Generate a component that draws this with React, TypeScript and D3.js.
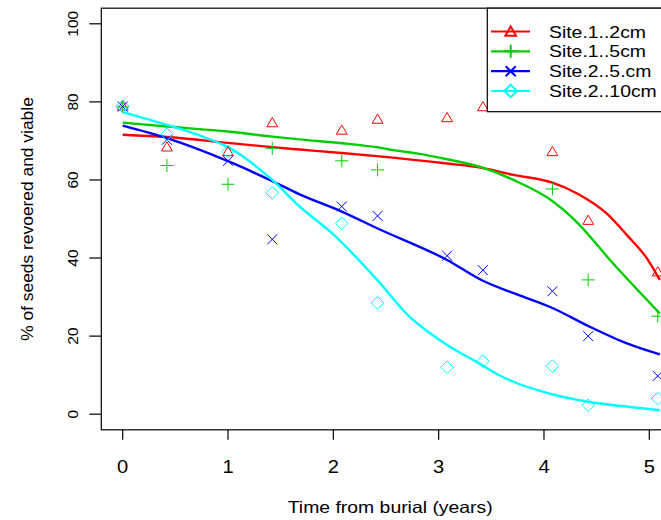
import React from 'react';
import * as d3 from 'd3';

// ---- data ----
const years = [0, 0.42, 1, 1.42, 2.08, 2.42, 3.08, 3.42, 4.08, 4.42, 5.08];
const site1_2cm: (number | null)[] = [79.0, 68.5, 67.3, 74.7, 72.8, 75.6, 76.0, 78.8, 67.3, 49.7, 36.5];
const site1_5cm: (number | null)[] = [78.7, 63.7, 58.9, 68.1, 64.9, 62.6, null, null, 57.7, 34.4, 25.1];
const site2_5cm: (number | null)[] = [78.8, 70.3, 64.9, 44.8, 53.2, 50.8, 40.6, 36.9, 31.5, 20.0, 9.8];
const site2_10cm: (number | null)[] = [78.9, 71.7, 67.3, 56.7, 48.9, 28.5, 12.0, 13.6, 12.3, 2.3, 4.0];

// smoothed (fitted) curves
const fit1_2cmX = [0, 0.42, 1.0, 1.42, 1.68, 2.08, 2.41, 3.08, 3.41, 3.71, 4.08, 4.31, 4.6, 4.79, 4.98, 5.1];
const fit1_2cmY = [71.6, 71.0, 69.5, 68.4, 67.8, 66.9, 66.1, 64.2, 63.1, 61.3, 59.3, 56.6, 51.3, 45.8, 39.8, 34.4];
const fit1_5cmX = [0, 0.42, 1.0, 1.42, 1.68, 2.08, 2.41, 2.6, 2.79, 3.08, 3.41, 3.71, 4.08, 4.29, 4.65, 5.1];
const fit1_5cmY = [74.7, 73.7, 72.4, 71.1, 70.4, 69.4, 68.4, 67.5, 66.8, 65.3, 63.2, 60.0, 54.6, 49.8, 38.8, 25.8];
const fit2_5cmX = [0, 0.42, 1.0, 1.42, 1.68, 2.08, 2.41, 3.08, 3.41, 3.75, 4.08, 4.42, 4.8, 5.1];
const fit2_5cmY = [73.9, 70.7, 64.8, 59.7, 56.3, 51.9, 47.7, 39.5, 34.3, 30.6, 27.2, 22.6, 18.0, 15.3];
const fit2_10cmX = [0, 0.42, 0.73, 1.0, 1.42, 1.68, 1.99, 2.41, 2.73, 2.88, 3.11, 3.36, 3.58, 4.15, 4.42, 4.8, 5.1];
const fit2_10cmY = [77.4, 74.1, 71.4, 68.4, 60.0, 53.2, 46.3, 34.6, 24.8, 21.5, 17.2, 13.4, 9.9, 4.6, 3.2, 1.9, 1.0];

const seriesNames = ['Site.1..2cm', 'Site.1..5cm', 'Site.2..5.cm', 'Site.2..10cm'];
const seriesColors = ['#FF0000', '#00CD00', '#0000FF', '#00FFFF'];
const seriesShapes = ['triangle', 'plus', 'cross', 'diamond'];

const xTicks = [0, 1, 2, 3, 4, 5];
const yTicks = [0, 20, 40, 60, 80, 100];
const xTitle = 'Time from burial (years)';
const yTitle = '% of seeds revoered and viable';

const W = 661;
const H = 520;
const FONT = "'Liberation Sans', Arial, Helvetica, sans-serif";
const SX = 1.19; // horizontal stretch of the reference's text

function Marker({ shape, cx, cy, color, sw }: { shape: string; cx: number; cy: number; color: string; sw: number }) {
  if (shape === 'triangle') {
    const d = `M${cx},${cy - 5} L${cx + 5.4},${cy + 4.2} L${cx - 5.4},${cy + 4.2} Z`;
    return <path d={d} fill="none" stroke={color} strokeWidth={sw} />;
  }
  if (shape === 'plus') {
    const s = 6.5;
    return (
      <path d={`M${cx - s},${cy} L${cx + s},${cy} M${cx},${cy - s} L${cx},${cy + s}`} stroke={color} strokeWidth={sw} fill="none" />
    );
  }
  if (shape === 'cross') {
    const s = 5;
    return (
      <path d={`M${cx - s},${cy - s} L${cx + s},${cy + s} M${cx - s},${cy + s} L${cx + s},${cy - s}`} stroke={color} strokeWidth={sw} fill="none" />
    );
  }
  const s = 6.3;
  return <path d={`M${cx},${cy - s} L${cx + s},${cy} L${cx},${cy + s} L${cx - s},${cy} Z`} fill="none" stroke={color} strokeWidth={sw} />;
}

export default function App() {
  const x = d3.scaleLinear().domain([0, 5]).range([122.7, 649.3]);
  const y = d3.scaleLinear().domain([0, 100]).range([414.2, 23.8]);

  const xMin = -0.04 * 5.08;
  const xMax = 5.08 + 0.04 * 5.08;
  const box = { x0: x(xMin), x1: x(xMax), y0: y(104), y1: y(-4) };

  const points = [site1_2cm, site1_5cm, site2_5cm, site2_10cm];
  const fitsX = [fit1_2cmX, fit1_5cmX, fit2_5cmX, fit2_10cmX];
  const fitsY = [fit1_2cmY, fit1_5cmY, fit2_5cmY, fit2_10cmY];

  const line = d3
    .line<[number, number]>()
    .x((d) => x(d[0]))
    .y((d) => y(d[1]))
    .curve(d3.curveMonotoneX);

  const legendX = 487.3;
  const legendRows = [31.5, 51.3, 71.2, 91];

  return (
    <svg
      width={W}
      height={H}
      style={{ position: 'absolute', left: 0, top: 0, background: '#fff' }}
      fontFamily={FONT}
    >
      <rect x={0} y={0} width={W} height={H} fill="#fff" />

      {/* fitted curves */}
      {fitsX.map((fx, i) => (
        <path
          key={'fit' + i}
          d={line(fx.map((v, j) => [v, fitsY[i][j]] as [number, number])) || ''}
          fill="none"
          stroke={seriesColors[i]}
          strokeWidth={2.4}
        />
      ))}

      {/* points */}
      {points.map((vals, i) =>
        vals.map((v, j) =>
          v === null ? null : (
            <Marker key={`p${i}-${j}`} shape={seriesShapes[i]} cx={x(years[j])} cy={y(v)} color={seriesColors[i]} sw={1} />
          )
        )
      )}

      {/* plot box */}
      <rect x={box.x0} y={box.y0} width={box.x1 - box.x0} height={box.y1 - box.y0} fill="none" stroke="#000" strokeWidth={1.2} />

      {/* x axis ticks */}
      {xTicks.map((t) => (
        <g key={'xt' + t}>
          <line x1={x(t)} x2={x(t)} y1={box.y1} y2={box.y1 + 10} stroke="#000" strokeWidth={1.2} />
          <text transform={`translate(${x(t)},472.5) scale(1.15,1)`} textAnchor="middle" fontSize={17.5} fill="#000">
            {t}
          </text>
        </g>
      ))}

      {/* y axis ticks */}
      {yTicks.map((t) => (
        <g key={'yt' + t}>
          <line x1={box.x0 - 12} x2={box.x0} y1={y(t)} y2={y(t)} stroke="#000" strokeWidth={1.2} />
          <text
            transform={`translate(${78},${y(t)}) rotate(-90)`}
            textAnchor="middle"
            fontSize={15.5}
            fill="#000"
          >
            {t}
          </text>
        </g>
      ))}

      {/* axis titles */}
      <text
        transform={`translate(${(box.x0 + box.x1) / 2},512.5) scale(${SX},1)`}
        textAnchor="middle"
        fontSize={16.3}
        fill="#000"
      >
        {xTitle}
      </text>
      <text
        transform={`translate(${33},${(box.y0 + box.y1) / 2}) rotate(-90)`}
        textAnchor="middle"
        fontSize={17.4}
        fill="#000"
      >
        {yTitle}
      </text>

      {/* legend */}
      <rect x={legendX} y={box.y0} width={box.x1 - legendX} height={111.7 - box.y0} fill="#fff" stroke="#000" strokeWidth={1.2} />
      {seriesNames.map((name, i) => (
        <g key={'lg' + i}>
          <line x1={491} x2={530} y1={legendRows[i]} y2={legendRows[i]} stroke={seriesColors[i]} strokeWidth={2.2} />
          <Marker shape={seriesShapes[i]} cx={510.7} cy={legendRows[i]} color={seriesColors[i]} sw={2} />
          <text
            transform={`translate(549,${legendRows[i] + 6}) scale(${SX},1)`}
            fontSize={16.3}
            fill="#000"
          >
            {name}
          </text>
        </g>
      ))}
    </svg>
  );
}
